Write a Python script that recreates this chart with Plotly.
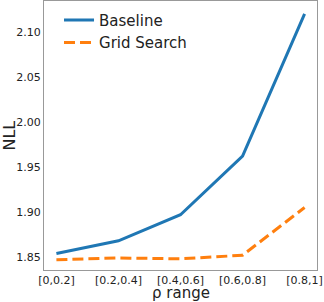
import plotly.graph_objects as go

categories = ["[0,0.2]", "[0.2,0.4]", "[0.4,0.6]", "[0.6,0.8]", "[0.8,1]"]
baseline = [1.854, 1.868, 1.897, 1.962, 2.120]
grid_search = [1.847, 1.849, 1.848, 1.852, 1.905]
y_ticks = [1.85, 1.90, 1.95, 2.00, 2.05, 2.10]

x_idx = list(range(len(categories)))

fig = go.Figure()
fig.add_trace(go.Scatter(x=x_idx, y=baseline, mode="lines", name="Baseline",
                         line=dict(color="#1f77b4", width=3)))
fig.add_trace(go.Scatter(x=x_idx, y=grid_search, mode="lines", name="Grid Search",
                         line=dict(color="#ff7f0e", width=3, dash="11px,5px")))

font = "DejaVu Sans"
fig.update_layout(
    width=324, height=302,
    margin=dict(l=44, r=7, t=1, b=32),
    paper_bgcolor="white", plot_bgcolor="white",
    font=dict(family=font, color="#222"),
    showlegend=True,
    legend=dict(x=0.055, y=0.99, xanchor="left", yanchor="top",
                bgcolor="rgba(255,255,255,0)", font=dict(size=15, family=font, color="#222")),
    xaxis=dict(range=[-0.2, 4.2], tickvals=x_idx, ticktext=categories,
               showgrid=False, zeroline=False, showline=True, mirror=True,
               linecolor="#999", linewidth=1, ticks="", tickfont=dict(size=11),
               automargin=False),
    yaxis=dict(range=[1.8356, 2.1344], tickvals=y_ticks,
               ticktext=[f"{v:.2f}" for v in y_ticks],
               showgrid=False, zeroline=False, showline=True, mirror=True,
               linecolor="#999", linewidth=1, ticks="", tickfont=dict(size=11),
               automargin=False),
    annotations=[
        dict(text="ρ range", xref="paper", yref="paper", x=0.5, y=-0.046,
             xanchor="center", yanchor="top", showarrow=False, font=dict(size=15)),
        dict(text="NLL", xref="paper", yref="paper", x=-0.128, y=0.5,
             xanchor="center", yanchor="middle", textangle=-90, showarrow=False,
             font=dict(size=16)),
    ],
)
fig.write_html("out.html", config={"displayModeBar": False},
               post_script="document.body.style.margin='0';document.body.style.overflow='hidden';")
